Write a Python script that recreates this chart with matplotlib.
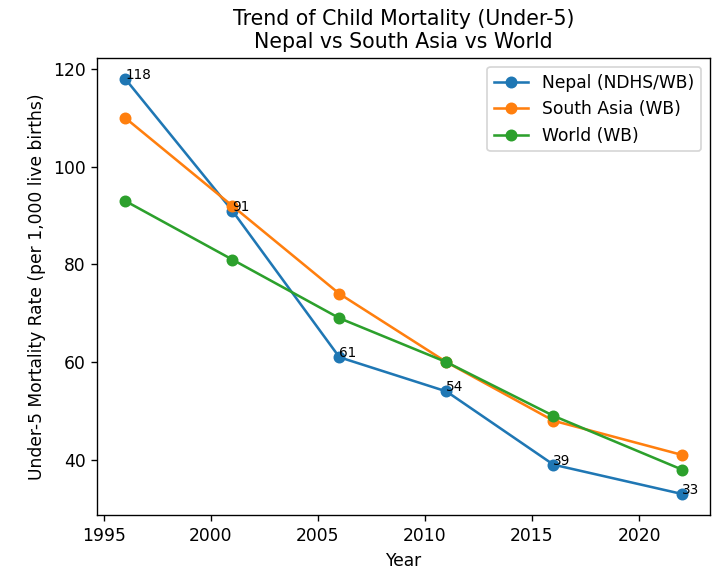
import matplotlib
matplotlib.use('Agg')
import matplotlib.pyplot as plt

years = [1996, 2001, 2006, 2011, 2016, 2022]
nepal = [118, 91, 61, 54, 39, 33]
south_asia = [110, 92, 74, 60, 48, 41]
world = [93, 81, 69, 60, 49, 38]

DPI = 123
fig, ax = plt.subplots(figsize=(722 / DPI, 570 / DPI), dpi=DPI)
ax.plot(years, nepal, marker='o', label='Nepal (NDHS/WB)')
ax.plot(years, south_asia, marker='o', label='South Asia (WB)')
ax.plot(years, world, marker='o', label='World (WB)')

# value labels on the Nepal series only
for x, y in zip(years, nepal):
    ax.text(x, y, str(y), fontsize=8)

ax.set_title('Trend of Child Mortality (Under-5)\nNepal vs South Asia vs World')
ax.set_xlabel('Year')
ax.set_ylabel('Under-5 Mortality Rate (per 1,000 live births)')
ax.legend()

plt.subplots_adjust(left=0.135, right=0.983, top=0.898, bottom=0.097)
plt.savefig('out.png', dpi=DPI)
